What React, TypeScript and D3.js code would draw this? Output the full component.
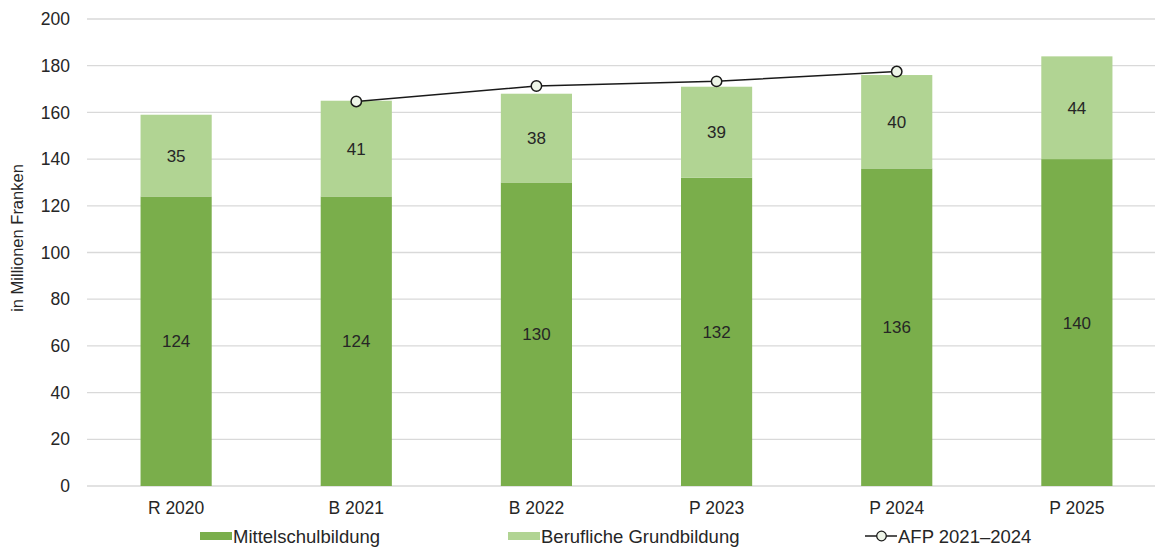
import React from "react";
import * as d3 from "d3";

const categories = ["R 2020", "B 2021", "B 2022", "P 2023", "P 2024", "P 2025"];
const mittelschul = [124, 124, 130, 132, 136, 140];
const beruflich = [35, 41, 38, 39, 40, 44];
const afpCategories = ["B 2021", "B 2022", "P 2023", "P 2024"];
const afpValues = [164.7, 171.3, 173.3, 177.5];
const yTicks = [0, 20, 40, 60, 80, 100, 120, 140, 160, 180, 200];

const W = 1155;
const H = 547;
const FONT = "'Liberation Sans', Arial, sans-serif";
const DARK = "#7aae4b";
const LIGHT = "#b1d493";
const TEXT = "#262626";

export default function App() {
  const x = d3.scaleBand<string>().domain(categories).range([86.5, 1166.5]).paddingInner(0.605).paddingOuter(0.3);
  const y = d3.scaleLinear().domain([0, 200]).range([486, 19]);
  const line = d3
    .line<number>()
    .x((_, i) => (x(afpCategories[i]) as number) + x.bandwidth() / 2)
    .y((d) => y(d));

  return (
    <svg width={W} height={H} style={{ position: "absolute", left: 0, top: 0, background: "#fff" }}>
      <rect width={W} height={H} fill="#fff" />
      {yTicks.map((t) => (
        <g key={t}>
          <line x1={87} x2={W} y1={y(t)} y2={y(t)} stroke="#d9d9d9" strokeWidth={1.3} />
          <text x={70} y={y(t)} dy="0.35em" textAnchor="end" fontFamily={FONT} fontSize={17.5} fill={TEXT}>
            {t}
          </text>
        </g>
      ))}
      <text
        transform={`translate(23,${238}) rotate(-90)`}
        textAnchor="middle"
        fontFamily={FONT}
        fontSize={16.5}
        fill={TEXT}
      >
        in Millionen Franken
      </text>
      {categories.map((c, i) => {
        const x0 = x(c) as number;
        const bw = x.bandwidth();
        const m = mittelschul[i];
        const b = beruflich[i];
        return (
          <g key={c}>
            <rect x={x0} y={y(m)} width={bw} height={y(0) - y(m)} fill={DARK} />
            <rect x={x0} y={y(m + b)} width={bw} height={y(m) - y(m + b)} fill={LIGHT} />
            <text x={x0 + bw / 2} y={y(m / 2)} dy="0.35em" textAnchor="middle" fontFamily={FONT} fontSize={17} fill={TEXT}>
              {m}
            </text>
            <text x={x0 + bw / 2} y={y(m + b / 2)} dy="0.35em" textAnchor="middle" fontFamily={FONT} fontSize={17} fill={TEXT}>
              {b}
            </text>
            <text x={x0 + bw / 2} y={513.5} textAnchor="middle" fontFamily={FONT} fontSize={17.5} fill={TEXT}>
              {c}
            </text>
          </g>
        );
      })}
      <path d={line(afpValues) || ""} fill="none" stroke="#1a1a1a" strokeWidth={1.5} />
      {afpValues.map((v, i) => (
        <circle
          key={i}
          cx={(x(afpCategories[i]) as number) + x.bandwidth() / 2}
          cy={y(v)}
          r={5.2}
          fill="#eef5e8"
          stroke="#1a1a1a"
          strokeWidth={1.5}
        />
      ))}
      {/* Legend */}
      <g fontFamily={FONT} fontSize={18.5} fill={TEXT}>
        <rect x={200} y={532} width={32} height={8} fill={DARK} />
        <text x={233} y={542.5}>Mittelschulbildung</text>
        <rect x={508} y={532} width={32} height={8} fill={LIGHT} />
        <text x={541} y={542.5}>Berufliche Grundbildung</text>
        <line x1={865} x2={897} y1={536} y2={536} stroke="#1a1a1a" strokeWidth={1.5} />
        <circle cx={881.5} cy={536} r={4.8} fill="#eef5e8" stroke="#1a1a1a" strokeWidth={1.3} />
        <text x={898} y={542.5}>AFP 2021–2024</text>
      </g>
    </svg>
  );
}
